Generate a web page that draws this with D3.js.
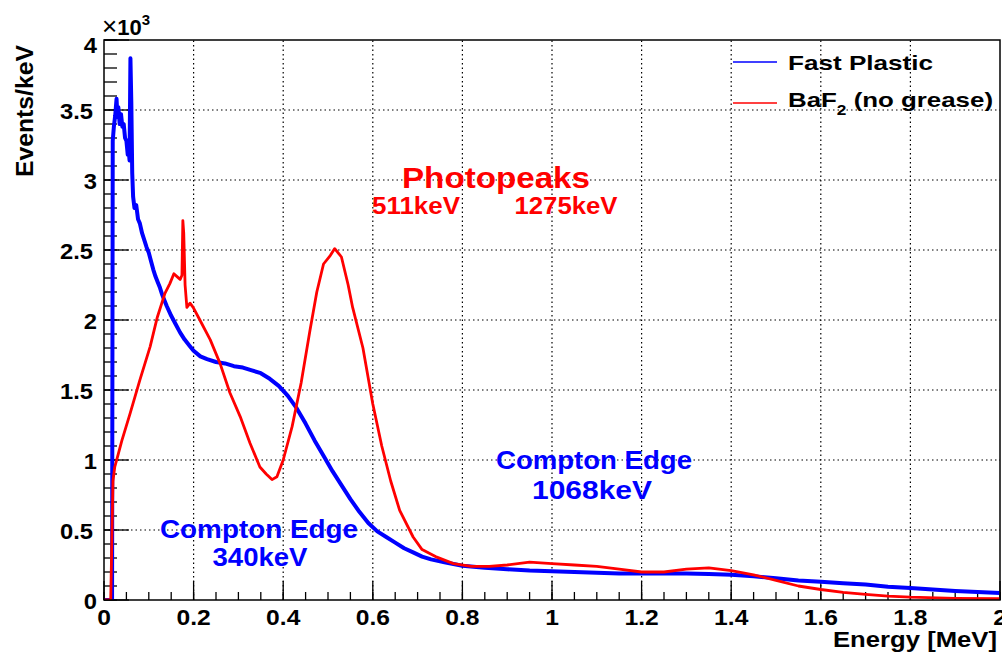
<!DOCTYPE html>
<html><head><meta charset="utf-8">
<script src="https://cdn.jsdelivr.net/npm/d3@7"></script>
<style>
body{margin:0;background:#fff}
text{font-family:"Liberation Sans",Arial,Helvetica,sans-serif;font-weight:bold}
</style></head><body>
<svg id="c" width="1002" height="660"></svg>
<script>
// Energy in MeV, counts in 10^3 events/keV
const energyPlastic = [0,0.018,0.0195,0.022,0.025,0.028,0.030,0.032,0.035,0.038,0.041,0.044,0.047,0.050,0.053,0.055,0.057,0.059,0.061,0.063,0.065,0.068,0.072,0.076,0.080,0.085,0.090,0.095,0.100,0.105,0.110,0.115,0.120,0.125,0.130,0.135,0.140,0.150,0.160,0.170,0.180,0.190,0.200,0.215,0.230,0.250,0.270,0.290,0.310,0.330,0.350,0.370,0.390,0.410,0.430,0.450,0.470,0.490,0.510,0.530,0.550,0.570,0.590,0.610,0.630,0.650,0.670,0.690,0.710,0.730,0.760,0.800,0.850,0.900,0.950,1.000,1.050,1.100,1.150,1.200,1.250,1.300,1.350,1.400,1.450,1.500,1.550,1.600,1.650,1.700,1.750,1.800,1.850,1.900,1.950,2.000];
const countsPlastic = [0,0,3.28,3.38,3.46,3.58,3.45,3.52,3.40,3.47,3.38,3.40,3.30,3.28,3.18,3.22,3.14,3.87,3.55,3.05,2.88,2.80,2.82,2.72,2.69,2.62,2.57,2.52,2.48,2.42,2.36,2.31,2.27,2.23,2.18,2.14,2.10,2.03,1.97,1.91,1.86,1.82,1.78,1.74,1.72,1.70,1.69,1.67,1.66,1.64,1.62,1.58,1.53,1.46,1.37,1.26,1.14,1.03,0.92,0.82,0.72,0.63,0.55,0.49,0.45,0.41,0.37,0.34,0.31,0.29,0.27,0.245,0.23,0.22,0.21,0.205,0.20,0.195,0.19,0.19,0.19,0.19,0.185,0.18,0.17,0.155,0.14,0.13,0.12,0.11,0.095,0.085,0.075,0.065,0.058,0.05];

const energyBaF2 = [0,0.015,0.018,0.020,0.024,0.030,0.040,0.058,0.080,0.103,0.119,0.136,0.147,0.156,0.163,0.170,0.174,0.176,0.178,0.181,0.185,0.192,0.199,0.214,0.237,0.259,0.281,0.304,0.326,0.348,0.362,0.375,0.386,0.400,0.420,0.440,0.460,0.475,0.490,0.505,0.515,0.530,0.545,0.555,0.578,0.600,0.620,0.640,0.660,0.690,0.710,0.740,0.780,0.820,0.860,0.900,0.950,1.000,1.050,1.100,1.150,1.200,1.250,1.300,1.350,1.400,1.450,1.500,1.550,1.600,1.650,1.700,1.750,1.800,1.900,2.000];
const countsBaF2 = [0,0,0.5,0.85,0.95,1.02,1.14,1.33,1.57,1.81,2.02,2.19,2.26,2.33,2.31,2.29,2.32,2.71,2.62,2.25,2.09,2.12,2.09,2.00,1.86,1.69,1.48,1.31,1.12,0.95,0.90,0.86,0.88,1.00,1.24,1.55,1.93,2.20,2.40,2.46,2.51,2.45,2.25,2.09,1.80,1.40,1.10,0.85,0.64,0.45,0.36,0.31,0.26,0.24,0.24,0.25,0.27,0.26,0.25,0.24,0.22,0.20,0.20,0.22,0.23,0.21,0.18,0.14,0.10,0.075,0.055,0.04,0.028,0.02,0.012,0.01];

const xMajorTicks = [0,0.2,0.4,0.6,0.8,1.0,1.2,1.4,1.6,1.8,2.0];
const xTickLabels = ["0","0.2","0.4","0.6","0.8","1","1.2","1.4","1.6","1.8","2"];
const yMajorTicks = [0,0.5,1,1.5,2,2.5,3,3.5,4];
const yTickLabels = ["0","0.5","1","1.5","2","2.5","3","3.5","4"];
const seriesNames = ["Fast Plastic","BaF2 (no grease)"];
const seriesColors = ["#0000ff","#ff0000"];

const svg = d3.select("#c");
const L = 104, R = 1000, T = 40, B = 600;
const x = d3.scaleLinear().domain([0,2]).range([L,R]);
const y = d3.scaleLinear().domain([0,4]).range([B,T]);

// grid
const g = svg.append("g");
g.selectAll(".gx").data(xMajorTicks.slice(1,-1)).enter().append("line")
  .attr("x1",d=>x(d)).attr("x2",d=>x(d)).attr("y1",B).attr("y2",T)
  .attr("stroke","#000").attr("stroke-width",1.2).attr("stroke-dasharray","1.5,3");
g.selectAll(".gy").data(yMajorTicks.slice(1,-1)).enter().append("line")
  .attr("x1",L).attr("x2",R).attr("y1",d=>y(d)).attr("y2",d=>y(d))
  .attr("stroke","#000").attr("stroke-width",1.2).attr("stroke-dasharray","1.5,3");

// axes with ticks
const xMinor = d3.range(0,2.0001,0.05);
const yMinor = d3.range(0,4.0001,0.1);
svg.selectAll(".xmin").data(xMinor).enter().append("line")
  .attr("x1",d=>x(d)).attr("x2",d=>x(d)).attr("y1",B).attr("y2",B-8)
  .attr("stroke","#000").attr("stroke-width",1.3);
svg.selectAll(".xmaj").data(xMajorTicks).enter().append("line")
  .attr("x1",d=>x(d)).attr("x2",d=>x(d)).attr("y1",B).attr("y2",B-19)
  .attr("stroke","#000").attr("stroke-width",1.3);
svg.selectAll(".ymin").data(yMinor).enter().append("line")
  .attr("x1",L).attr("x2",L+13).attr("y1",d=>y(d)).attr("y2",d=>y(d))
  .attr("stroke","#000").attr("stroke-width",1.3);
svg.selectAll(".ymaj").data(yMajorTicks).enter().append("line")
  .attr("x1",L).attr("x2",L+25).attr("y1",d=>y(d)).attr("y2",d=>y(d))
  .attr("stroke","#000").attr("stroke-width",1.3);

// curves
const line = d3.line().x(d=>x(d[0])).y(d=>y(d[1]));
const plastic = energyPlastic.map((e,i)=>[e,countsPlastic[i]]);
const baf2 = energyBaF2.map((e,i)=>[e,countsBaF2[i]]);
svg.append("clipPath").attr("id","pc").append("rect")
  .attr("x",L).attr("y",T).attr("width",R-L).attr("height",B-T);
svg.append("path").datum(plastic).attr("d",line).attr("fill","none")
  .attr("stroke",seriesColors[0]).attr("stroke-width",4).attr("stroke-linejoin","round")
  .attr("clip-path","url(#pc)");
svg.append("path").datum(baf2).attr("d",line).attr("fill","none")
  .attr("stroke",seriesColors[1]).attr("stroke-width",2.8).attr("stroke-linejoin","round")
  .attr("clip-path","url(#pc)");

// frame
svg.append("rect").attr("x",L).attr("y",T).attr("width",R-L).attr("height",B-T)
  .attr("fill","none").attr("stroke","#000").attr("stroke-width",1.5);

// tick labels
svg.selectAll(".xl").data(xMajorTicks).enter().append("text")
  .attr("transform",d=>`translate(${x(d)},${B+25}) scale(1.12,1)`)
  .attr("text-anchor","middle")
  .attr("font-size",22).text((d,i)=>xTickLabels[i]);
svg.selectAll(".yl").data(yMajorTicks).enter().append("text")
  .attr("transform",(d,i)=>`translate(${yTickLabels[i].includes(".")?93:97},${Math.max(y(d)+9,T+13)}) scale(1.08,1)`)
  .attr("text-anchor","end")
  .attr("font-size",22).text((d,i)=>yTickLabels[i]);

// x10^3
const ex = svg.append("text").attr("x",102).attr("y",35).attr("font-size",22);
ex.append("tspan").attr("font-weight","normal").attr("font-size",26).text("\u00d7");
ex.append("tspan").text("10");
ex.append("tspan").attr("font-size",15).attr("dy",-10).text("3");

// axis titles
svg.append("text").attr("transform","translate(33,45) rotate(-90)")
  .attr("text-anchor","end").attr("font-size",23)
  .attr("textLength",132).attr("lengthAdjust","spacingAndGlyphs").text("Events/keV");
svg.append("text").attr("x",997).attr("y",647).attr("text-anchor","end")
  .attr("font-size",21.5).attr("textLength",164).attr("lengthAdjust","spacingAndGlyphs")
  .text("Energy [MeV]");

// legend
const lg = [62,103];
svg.selectAll(".lgl").data(lg).enter().append("line")
  .attr("x1",733).attr("x2",777).attr("y1",d=>d).attr("y2",d=>d)
  .attr("stroke",(d,i)=>seriesColors[i]).attr("stroke-width",1.5);
svg.append("text").attr("x",788).attr("y",70).attr("font-size",21)
  .attr("textLength",145).attr("lengthAdjust","spacingAndGlyphs").text(seriesNames[0]);
const t2 = svg.append("text").attr("x",788).attr("y",107).attr("font-size",21)
  .attr("textLength",205).attr("lengthAdjust","spacingAndGlyphs");
t2.append("tspan").text("BaF");
t2.append("tspan").attr("font-size",14).attr("dy",8).text("2");
t2.append("tspan").attr("dy",-8).text(" (no grease)");

// annotations
const ann = [
  {t:"Photopeaks",x:496,y:188,s:30,w:188,c:"#ff0000"},
  {t:"511keV",x:416,y:214,s:24,w:88,c:"#ff0000"},
  {t:"1275keV",x:566,y:214,s:24,w:103,c:"#ff0000"},
  {t:"Compton Edge",x:594,y:469,s:26,w:196,c:"#0000ff"},
  {t:"1068keV",x:592,y:499,s:26,w:120,c:"#0000ff"},
  {t:"Compton Edge",x:259,y:538,s:26,w:198,c:"#0000ff"},
  {t:"340keV",x:260,y:566,s:26,w:95,c:"#0000ff"}
];
svg.selectAll(".ann").data(ann).enter().append("text")
  .attr("x",d=>d.x).attr("y",d=>d.y).attr("text-anchor","middle")
  .attr("font-size",d=>d.s).attr("textLength",d=>d.w).attr("lengthAdjust","spacingAndGlyphs")
  .attr("fill",d=>d.c).text(d=>d.t);
</script></body></html>
